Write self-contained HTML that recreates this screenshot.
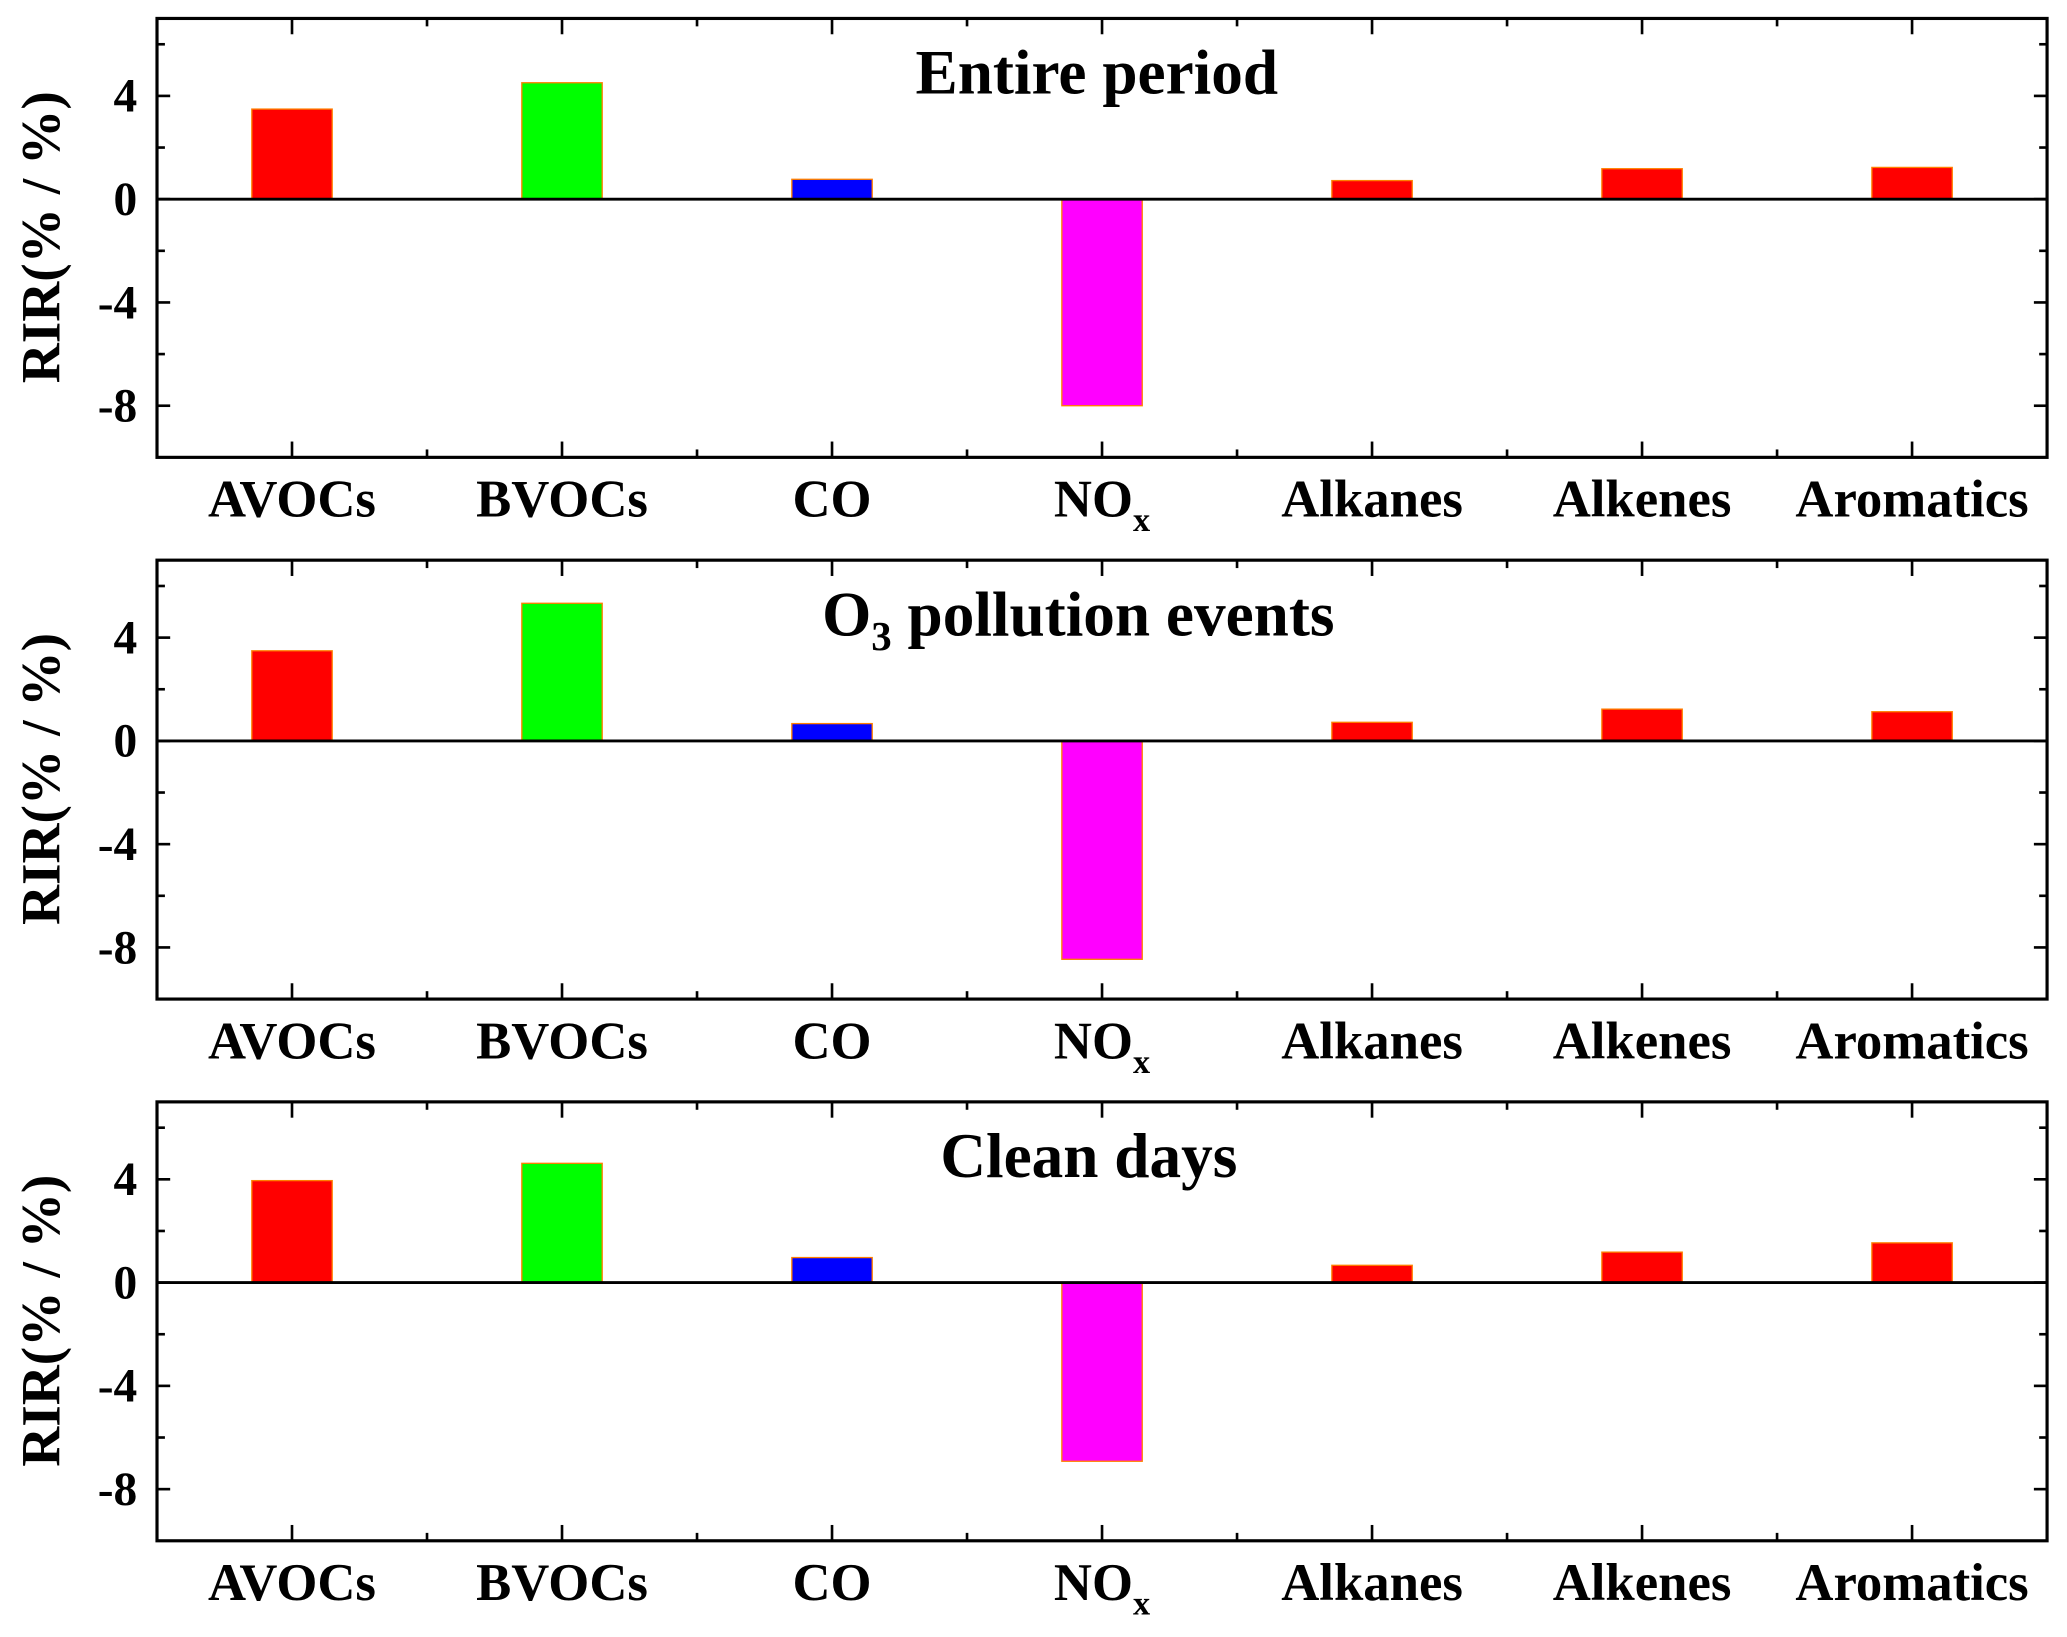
<!DOCTYPE html>
<html><head><meta charset="utf-8"><style>
html,body{margin:0;padding:0;background:#fff;}
svg{display:block;font-family:"Liberation Serif",serif;font-weight:bold;}
</style></head><body>
<svg id="chart" width="2067" height="1637" viewBox="0 0 1568 1242" xmlns="http://www.w3.org/2000/svg"></svg>
<script>
const categories = ["AVOCs","BVOCs","CO","NOx","Alkanes","Alkenes","Aromatics"];
const colors = ["#ff0000","#00ff00","#0000ff","#ff00ff","#ff0000","#ff0000","#ff0000"];
const panelTitles = ["Entire period","O3 pollution events","Clean days"];
const entireValues = [3.49, 4.51, 0.77, -8.0, 0.72, 1.18, 1.23];
const pollutionValues = [3.49, 5.33, 0.67, -8.46, 0.72, 1.23, 1.13];
const cleanValues = [3.95, 4.62, 0.97, -6.92, 0.67, 1.18, 1.54];
const majorTicks = [4, 0, -4, -8];
const minorTicks = [6, 2, -2, -6];
const yMin = -10, yMax = 7;

const NS = "http://www.w3.org/2000/svg";
const svg = document.getElementById("chart");
function mk(tag, attrs, parent){const e=document.createElementNS(NS,tag);for(const k in attrs)e.setAttribute(k,attrs[k]);(parent||svg).appendChild(e);return e;}

const L=119, R=1553, H=333;
const tops=[14,425,836];
const allValues=[entireValues,pollutionValues,cleanValues];
const step=(R-L)/categories.length;
function xPos(i){return L+step*(i+0.5);}

tops.forEach((top,p)=>{
  const vals=allValues[p];
  const yS=v=>top+(yMax-v)/(yMax-yMin)*H;
  const g=mk("g",{});
  
  
  vals.forEach((v,i)=>{
    const y0=yS(0), y1=yS(v);
    const r=mk("rect",{x:xPos(i)-30.5,y:Math.min(y0,y1),width:61,height:Math.abs(y1-y0),fill:colors[i],stroke:"#ff7f00","stroke-width":1},g);
    
    
  });
  const z=mk("line",{x1:L,x2:R,y1:yS(0),y2:yS(0),stroke:"#000","stroke-width":2.2},g);
  
  
  const f=mk("rect",{x:L,y:top,width:R-L,height:H,fill:"none",stroke:"#000","stroke-width":2.4},g);
  
  
  majorTicks.forEach(t=>{
    const y=yS(t);
    mk("line",{x1:L,x2:L+10,y1:y,y2:y,stroke:"#000","stroke-width":2},g);
    mk("line",{x1:R,x2:R-10,y1:y,y2:y,stroke:"#000","stroke-width":2},g);
    const tx=mk("text",{x:104,y:y+12,"text-anchor":"end","font-size":36},g);
    tx.textContent=t;
    
    
  });
  minorTicks.forEach(t=>{
    const y=yS(t);
    mk("line",{x1:L,x2:L+6,y1:y,y2:y,stroke:"#000","stroke-width":2},g);
    mk("line",{x1:R,x2:R-6,y1:y,y2:y,stroke:"#000","stroke-width":2},g);
  });
  categories.forEach((c,i)=>{
    const x=xPos(i);
    mk("line",{x1:x,x2:x,y1:top+H,y2:top+H-12,stroke:"#000","stroke-width":2},g);
    mk("line",{x1:x,x2:x,y1:top,y2:top+12,stroke:"#000","stroke-width":2},g);
    if(i>0){
      const xb=L+step*i;
      mk("line",{x1:xb,x2:xb,y1:top+H,y2:top+H-6,stroke:"#000","stroke-width":2},g);
      mk("line",{x1:xb,x2:xb,y1:top,y2:top+6,stroke:"#000","stroke-width":2},g);
    }
    const tx=mk("text",{x:x,y:top+H+45,"text-anchor":"middle","font-size":40},g);
    if(c==="NOx"){tx.innerHTML='NO<tspan font-size="26" dy="11">x</tspan>';}
    else tx.textContent=c;
    
    
  });
  const cy=top+166;
  const yt=mk("text",{x:0,y:0,"text-anchor":"middle","font-size":42,transform:`translate(45,${cy}) rotate(-90)`},g);
  yt.textContent="RIR(% / %)";
  
  
  const tt=mk("text",{x:p===1?818:(p===0?832:826),y:top+57,"text-anchor":"middle","font-size":48},g);
  if(p===1){tt.innerHTML='O<tspan font-size="31" dy="11">3</tspan><tspan dy="-11"> pollution events</tspan>';}
  else tt.textContent=panelTitles[p];
  
  
});
</script>
</body></html>
